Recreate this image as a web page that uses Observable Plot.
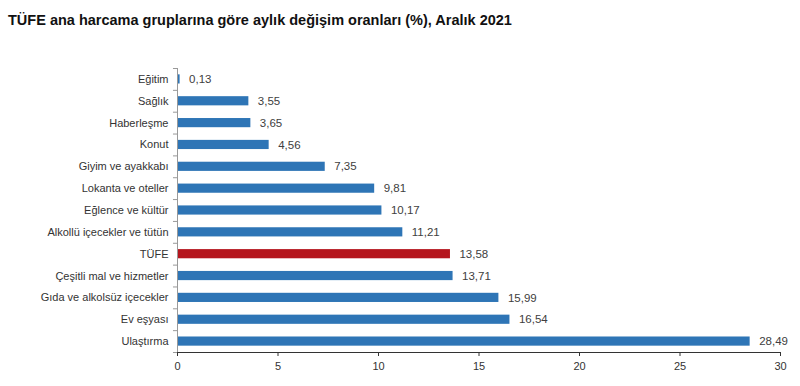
<!DOCTYPE html>
<html>
<head>
<meta charset="utf-8">
<script src="https://cdn.jsdelivr.net/npm/d3@7"></script>
<script src="https://cdn.jsdelivr.net/npm/@observablehq/plot@0.6"></script>
<style>
  body { margin: 0; background: #fff; font-family: "Liberation Sans", Arial, sans-serif; }
  #wrap { width: 800px; height: 386px; position: relative; overflow: hidden; }
  #title { position: absolute; left: 8px; top: 12px; font-weight: bold; font-size: 14.5px; color: #111; white-space: nowrap; }
  #chart { position: absolute; left: 0; top: 40px; }
</style>
</head>
<body>
<div id="wrap">
  <div id="title">TÜFE ana harcama gruplarına göre aylık değişim oranları (%), Aralık 2021</div>
  <div id="chart"></div>
</div>
<script>
const categories = ["Eğitim", "Sağlık", "Haberleşme", "Konut", "Giyim ve ayakkabı", "Lokanta ve oteller", "Eğlence ve kültür", "Alkollü içecekler ve tütün", "TÜFE", "Çeşitli mal ve hizmetler", "Gıda ve alkolsüz içecekler", "Ev eşyası", "Ulaştırma"];
const values = [0.13, 3.55, 3.65, 4.56, 7.35, 9.81, 10.17, 11.21, 13.58, 13.71, 15.99, 16.54, 28.49];
const highlight = "TÜFE";
const xTicks = [0, 5, 10, 15, 20, 25, 30];

const data = categories.map((c, i) => ({category: c, value: values[i]}));
const fmt = v => v.toFixed(2).replace(".", ",");
const blue = "#2e75b6", red = "#b5151d";

const H = 346, mTop = 28, mBottom = 34;
const step = (H - mTop - mBottom) / categories.length;

const chart = Plot.plot({
  width: 800,
  height: H,
  marginTop: mTop,
  marginBottom: mBottom,
  marginLeft: 177,
  marginRight: 20,
  style: {fontFamily: "'Liberation Sans', Arial, sans-serif", fontSize: "11px", color: "#333", background: "#fff"},
  x: {domain: [0, 30], ticks: xTicks, tickSize: 4, tickPadding: 6, label: null, line: true, tickFormat: d => d},
  y: {domain: categories, paddingInner: 0.58, paddingOuter: 0.29, round: false, tickSize: 0, tickPadding: 9, label: null},
  marks: [
    Plot.barX(data, {x: "value", y: "category", fill: d => d.category === highlight ? red : blue}),
    Plot.text(data, {x: "value", y: "category", text: d => fmt(d.value), textAnchor: "start", dx: 9, fontSize: 11.5, fill: "#404040"}),
    Plot.ruleX([0], {stroke: "#999"}),
    Plot.ruleY(categories, {y: d => d, x1: -0.2, x2: 0, dy: step / 2, stroke: "#999"}),
    Plot.ruleY([categories[0]], {y: d => d, x1: -0.2, x2: 0, dy: -step / 2, stroke: "#999"})
  ]
});
chart.querySelectorAll("[aria-label='x-axis'] path, [aria-label='x-axis'] line").forEach(e => e.setAttribute("stroke", "#999"));
document.getElementById("chart").appendChild(chart);
</script>
</body>
</html>
